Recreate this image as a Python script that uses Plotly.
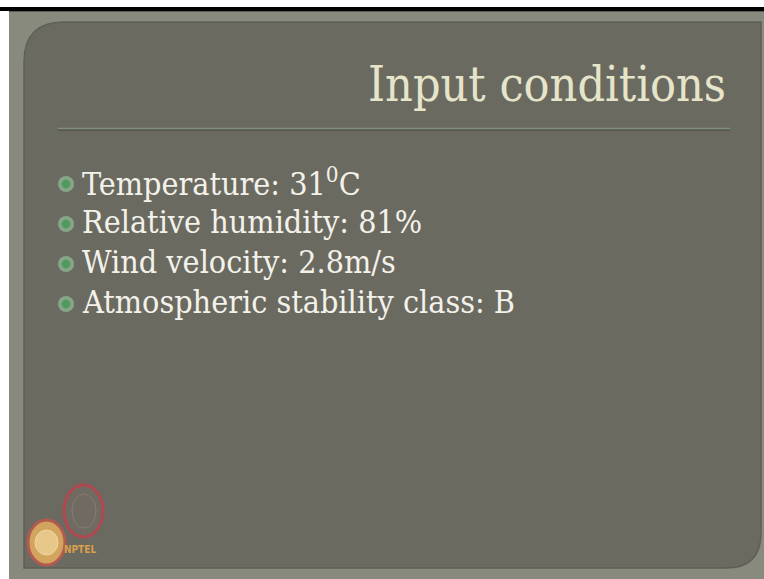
import plotly.graph_objects as go

# slide content
titulo = "Input conditions"
condiciones = [
    "Temperature: 31<sup>0</sup>C",
    "Relative humidity: 81%",
    "Wind velocity: 2.8m/s",
    "Atmospheric stability class: B",
]

W, H = 764, 579
FONT = "DejaVu Serif Condensed, Liberation Serif, serif"

fig = go.Figure()

# bullets, one per condition line
filas = list(range(len(condiciones)))
y_fila = [182 + 40 * i for i in filas]
fig.add_trace(go.Scatter(
    x=[66] * len(filas), y=[y + 2 for y in y_fila], mode="markers",
    marker=dict(size=16, color="#86a68a", line=dict(width=0)),
    hoverinfo="skip", showlegend=False
))
fig.add_trace(go.Scatter(
    x=[66] * len(filas), y=[y + 2 for y in y_fila], mode="markers",
    marker=dict(size=9, color="#55985f", line=dict(color="#6aa874", width=1)),
    hoverinfo="skip", showlegend=False
))

shapes = [
    # black strip on top
    dict(type="rect", x0=0, x1=W, y0=7, y1=11, fillcolor="#000000", line_width=0, layer="below"),
    # outer frame
    dict(type="rect", x0=9, x1=W, y0=11, y1=H, fillcolor="#898a7e", line_width=0, layer="below"),
    dict(type="line", x0=9, x1=W, y0=11.5, y1=11.5, line=dict(color="#5a5a52", width=1), layer="below"),
    # inner panel, rounded top-left and bottom-right
    dict(type="path",
         path="M 24,62 Q 24,22 64,22 L 761,22 L 761,533 Q 761,568 726,568 L 24,568 Z",
         fillcolor="#6b6a61", line=dict(color="#5f5f57", width=1.5), layer="below"),
    # title underline
    dict(type="line", x0=58, x1=730, y0=130, y1=130, line=dict(color="#4f5049", width=1.5), layer="below"),
    dict(type="line", x0=58, x1=730, y0=128.5, y1=128.5, line=dict(color="#80907f", width=1.5), layer="below"),
    # logo (NPTEL) approximation
    dict(type="circle", x0=64, x1=103, y0=485, y1=537, line=dict(color="#b0484f", width=3),
         fillcolor="rgba(120,110,100,0.4)", layer="below"),
    dict(type="circle", x0=72, x1=96, y0=494, y1=528, line=dict(color="#8a7a70", width=1),
         fillcolor="rgba(0,0,0,0)", layer="below"),
    dict(type="circle", x0=28, x1=65, y0=520, y1=565, line=dict(color="#b05a50", width=3),
         fillcolor="#d2a45e", layer="below"),
    dict(type="circle", x0=35, x1=58, y0=530, y1=555, line=dict(color="#f0d8a0", width=1),
         fillcolor="#e8c88a", layer="below"),
]

annotations = [
    dict(x=728, y=84, text=titulo, showarrow=False, xanchor="right", yanchor="middle",
         font=dict(family=FONT, size=48, color="#e6e4c9")),
    dict(x=62, y=549, text="<b>NPTEL</b>", showarrow=False, xanchor="left", yanchor="middle",
         font=dict(family="DejaVu Sans Condensed, DejaVu Sans", size=10, color="#d9a04a")),
]
for i, txt in enumerate(condiciones):
    annotations.append(dict(
        x=80, y=y_fila[i], text=txt, showarrow=False, xanchor="left", yanchor="middle",
        font=dict(family=FONT, size=32, color="#f3f2ea")
    ))

fig.update_layout(
    width=W, height=H,
    margin=dict(l=0, r=0, t=0, b=0),
    paper_bgcolor="#ffffff", plot_bgcolor="rgba(0,0,0,0)",
    xaxis=dict(range=[0, W], visible=False, fixedrange=True),
    yaxis=dict(range=[H, 0], visible=False, fixedrange=True),
    shapes=shapes, annotations=annotations,
    showlegend=False,
)

fig.write_html("out.html", config={"displayModeBar": False},
               post_script="document.body.style.margin='0';document.body.style.overflow='hidden';")
